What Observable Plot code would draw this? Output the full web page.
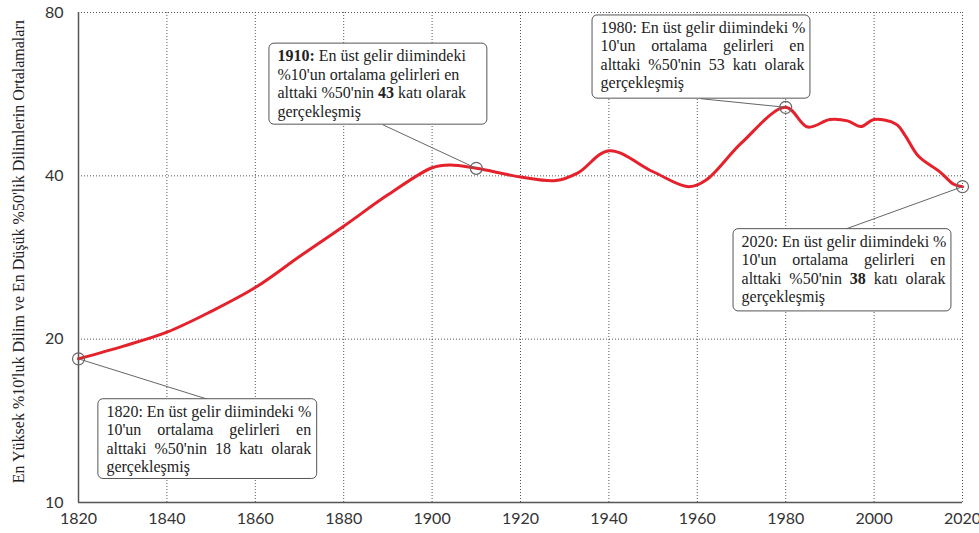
<!DOCTYPE html>
<html><head><meta charset="utf-8">
<script src="https://cdn.jsdelivr.net/npm/d3@7"></script>
<script src="https://cdn.jsdelivr.net/npm/@observablehq/plot@0.6"></script>
<style>
html,body{margin:0;padding:0;background:#fff;}
</style></head>
<body><div id="chart"></div>
<script>
// ---- data ----
const years  = [1820,1830,1840,1850,1860,1870,1880,1890,1900,1904,1910,1920,1928,1933,1940,1950,1958,1962,1970,1980,1985,1990,1994,1997,2000,2005,2007,2010,2015,2018,2020];
const ratios = [18.4,19.4,20.6,22.5,24.9,28.4,32.3,36.9,41.4,41.9,41.3,39.8,39.2,40.5,44.5,40.7,38.2,39.3,46.0,53.5,49.2,50.8,50.5,49.3,50.8,49.8,47.5,43.5,40.6,38.6,38.2];
const xTicks = [1820,1840,1860,1880,1900,1920,1940,1960,1980,2000,2020];
const yTicks = [10,20,40,80];
const yTitle = "En Yüksek %10'luk Dilim ve En Düşük %50'lik Dilimlerin Ortalamaları";

const annoYears  = [1820, 1910, 1980, 2020];
const annoValues = [18.4, 41.3, 53.5, 38.2];
const annoLines = [
  ["1820: En üst gelir diimindeki %", "10'un ortalama gelirleri en", "alttaki %50'nin 18 katı olarak", "gerçekleşmiş"],
  ["1910: En üst gelir diimindeki", "%10'un ortalama gelirleri en", "alttaki %50'nin 43 katı olarak", "gerçekleşmiş"],
  ["1980: En üst gelir diimindeki %", "10'un ortalama gelirleri en", "alttaki %50'nin 53 katı olarak", "gerçekleşmiş"],
  ["2020: En üst gelir diimindeki %", "10'un ortalama gelirleri en", "alttaki %50'nin 38 katı olarak", "gerçekleşmiş"]
];
const annoBold = [[], ["1910:", "43"], [], ["38"]];
const annoJustify = [true, false, true, true];

// ---- layout of annotation boxes (in data units: year / ratio) ----
const boxLayout = [
  {bx1: 1824.5, bx2: 1874.0, by1: 15.5, by2: 11.05, lx: 1849.2, ly: 15.5},
  {bx1: 1863.2, bx2: 1912.5, by1: 70.1, by2: 49.7, lx: 1888.8, ly: 49.7},
  {bx1: 1936.3, bx2: 1985.6, by1: 79.0, by2: 55.5, lx: 1960.7, ly: 55.5},
  {bx1: 1968.2, bx2: 2017.5, by1: 31.9, by2: 22.5, lx: 1993.5, ly: 31.9}
];

const series = years.map((y, i) => ({year: y, ratio: ratios[i]}));
const annos = annoYears.map((y, i) => ({year: y, value: annoValues[i], lines: annoLines[i], idx: i, ...boxLayout[i]}));

const serif = "'Liberation Serif', 'Times New Roman', serif";
const textMarks = [0,1,2,3].map(i => Plot.text(annos, {
  x: "bx1", y: "by1", text: d => d.lines[i],
  dx: 8, dy: 6 + i * 18.5,
  textAnchor: "start", lineAnchor: "top",
  fontFamily: serif, fontSize: 16, fill: "#222",
  ariaDescription: "anno-line-" + i
}));

const chart = Plot.plot({
  width: 979, height: 533,
  marginLeft: 78, marginRight: 17, marginTop: 12, marginBottom: 31,
  style: {fontFamily: "Lato, 'Open Sans', sans-serif", fontSize: "16px", color: "#333", background: "#fff", overflow: "visible"},
  x: {domain: [1820, 2020], label: null},
  y: {type: "log", domain: [10, 80], label: null},
  marks: [
    Plot.gridX(xTicks.slice(1), {stroke: "#444", strokeOpacity: 0.9, strokeWidth: 1, strokeDasharray: "1,2"}),
    Plot.gridY([20, 40, 80], {stroke: "#444", strokeOpacity: 0.9, strokeWidth: 1, strokeDasharray: "1,2"}),
    Plot.axisX(xTicks, {tickSize: 0, tickPadding: 10, tickFormat: d => String(d), label: null, fontSize: 16, fill: "#333"}),
    Plot.axisY(yTicks, {tickSize: 0, tickPadding: 15, tickFormat: d => String(d), label: null, fontSize: 16, fill: "#333"}),
    Plot.ruleX([1820], {stroke: "#555", strokeWidth: 1.5}),
    Plot.ruleY([10], {stroke: "#555", strokeWidth: 1.5}),
    Plot.line(series, {x: "year", y: "ratio", stroke: "#e5212b", strokeWidth: 3, curve: "catmull-rom"}),
    Plot.link(annos, {x1: "year", y1: "value", x2: "lx", y2: "ly", stroke: "#666", strokeWidth: 1}),
    Plot.dot(annos, {x: "year", y: "value", r: 6, stroke: "#666", strokeWidth: 1.2, fill: "none"}),
    Plot.rect(annos, {x1: "bx1", x2: "bx2", y1: "by1", y2: "by2", fill: "white", stroke: "#555", strokeWidth: 1, rx: 5}),
    ...textMarks,
    Plot.text([yTitle], {text: d => d, frameAnchor: "left", textAnchor: "middle", rotate: -90, dx: -60, dy: -6, fontFamily: serif, fontSize: 16, fill: "#222"})
  ]
});

document.getElementById("chart").appendChild(chart);

// bold fragments and justified lines in annotation boxes
const xs = chart.scale("x");
for (let i = 0; i < 4; i++) {
  d3.select(chart).selectAll(`g[aria-description="anno-line-${i}"] text`).each(function(_, k) {
    const a = annos[k];
    const el = d3.select(this);
    const words = a.lines[i].split(" ");
    el.text(null);
    words.forEach((w, wi) => {
      const t = el.append("tspan").text((wi ? " " : "") + w);
      if (annoBold[a.idx].includes(w)) t.attr("font-weight", "bold");
    });
    if (annoJustify[a.idx] && i < a.lines.length - 1) {
      const target = xs.apply(a.bx2) - xs.apply(a.bx1) - 8 - 6;
      const natural = this.getComputedTextLength();
      const gaps = words.length - 1;
      if (gaps > 0 && target > natural) el.attr("word-spacing", (target - natural) / gaps);
    }
  });
}
</script>
</body></html>
